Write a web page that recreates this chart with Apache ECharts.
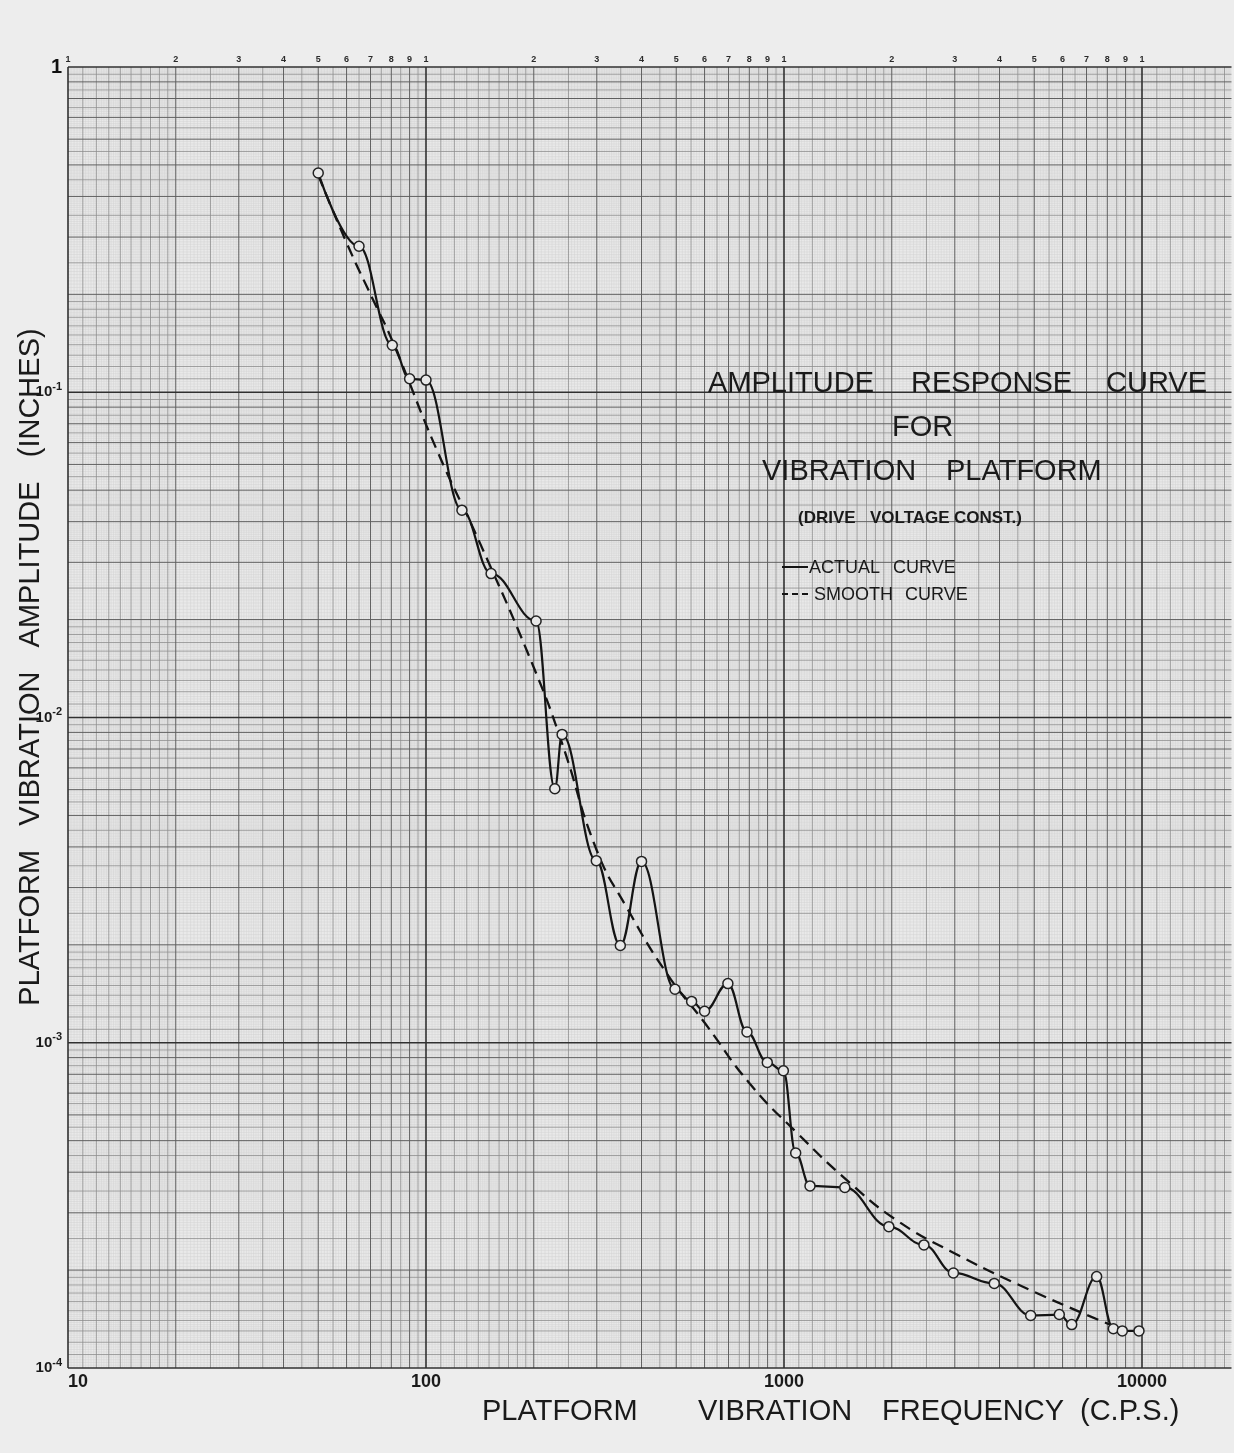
<!DOCTYPE html>
<html>
<head>
<meta charset="utf-8">
<script src="https://cdn.jsdelivr.net/npm/echarts@6/dist/echarts.min.js"></script>
<style>
  html, body { margin: 0; padding: 0; background: #ededed; }
  #chart { width: 1234px; height: 1453px; }
</style>
</head>
<body>
<div id="chart"></div>
<script>
// Measured response of the platform: frequency (c.p.s.) vs amplitude (inches)
const actualFreq = [50, 65, 80.5, 90, 100, 126, 152, 203, 229, 240, 299, 349, 400,
  496, 552, 600, 697, 788, 898, 996, 1078, 1182, 1479, 1963, 2460, 2973, 3867,
  4887, 5875, 6363, 7470, 8317, 8810, 9808];
const actualAmp = [0.472, 0.281, 0.1395, 0.110, 0.109, 0.0434, 0.0277, 0.0198,
  0.00604, 0.00887, 0.00363, 0.00199, 0.00361, 0.00146, 0.00134, 0.00125, 0.00152,
  0.00108, 0.00087, 0.00082, 0.000458, 0.000363, 0.000359, 0.000272, 0.000239,
  0.000196, 0.000182, 0.000145, 0.000146, 0.000136, 0.000191, 0.000132, 0.00013, 0.00013];

// Faired (smooth) curve through the measurements
const smoothFreq = [50, 60.1, 71.2, 80.4, 107.3, 141.6, 201.6, 240, 300, 364, 471,
  601, 803, 1086, 1528, 2041, 2909, 4932, 8400];
const smoothAmp = [0.465, 0.287, 0.192, 0.1445, 0.0663, 0.0343, 0.01395, 0.00832,
  0.0039, 0.0026, 0.00163, 0.00115, 0.000748, 0.000529, 0.000371, 0.000287,
  0.000229, 0.0001726, 0.000134];

// Axis ranges of the log-log sheet
const X_MIN = 10, X_MAX = Math.pow(10, 4.25);
const Y_MIN = 1e-4, Y_MAX = 1;
const xDecades = [1, 2, 3, 4];
const yDecades = [-4, -3, -2, -1, 0];

// Ruling of the sheet within one decade
function steps(a, b, step) {
  const out = [];
  for (let v = a; v < b - 1e-9; v += step) out.push(+v.toFixed(3));
  return out;
}
const unitMant = [2, 3, 4, 5, 6, 7, 8, 9];
const halfMant = [1.1, 1.2, 1.3, 1.4, 1.5, 1.6, 1.7, 1.8, 1.9,
  2.5, 3.5, 4.5, 5.5, 6.5, 7.5, 8.5, 9.5];
const fineMant = [].concat(steps(1, 2, 0.02), steps(2, 5, 0.05), steps(5, 10, 0.1))
  .filter(m => m !== 1 && unitMant.indexOf(m) < 0 && halfMant.indexOf(m) < 0);

const ruleStyles = [
  { color: '#303030', width: 1.6 },
  { color: '#5e5e5e', width: 1.0 },
  { color: '#8c8c8c', width: 0.8 },
  { color: '#d2d2d2', width: 0.5 }
];

function snap(v) { return Number(v.toPrecision(6)); }

// items: [x, y, tier, vertical?1:0]
const rules = [];
[[1], unitMant, halfMant, fineMant].forEach((list, tier) => {
  xDecades.forEach(e => list.forEach(m => {
    const v = snap(m * Math.pow(10, e));
    if (v >= X_MIN && v <= X_MAX) rules.push([v, Y_MIN, tier, 1]);
  }));
  yDecades.forEach(e => list.forEach(m => {
    const v = snap(m * Math.pow(10, e));
    if (v >= Y_MIN && v <= Y_MAX) rules.push([X_MIN, v, tier, 0]);
  }));
});
rules.sort((a, b) => b[2] - a[2]);

const FONT = '"Liberation Sans", Arial, sans-serif';

function renderRule(params, api) {
  const tier = api.value(2);
  const vertical = api.value(3) === 1;
  const st = ruleStyles[tier];
  let p1, p2;
  if (vertical) {
    const v = api.value(0);
    p1 = api.coord([v, Y_MIN]);
    p2 = api.coord([v, Y_MAX]);
  } else {
    const v = api.value(1);
    p1 = api.coord([X_MIN, v]);
    p2 = api.coord([X_MAX, v]);
  }
  const line = {
    type: 'line',
    shape: { x1: p1[0], y1: p1[1], x2: p2[0], y2: p2[1] },
    style: { stroke: st.color, lineWidth: st.width }
  };
  if (vertical && tier <= 1) {
    const v = api.value(0);
    if (v <= 10000) {
      const digit = Math.round(v / Math.pow(10, Math.floor(Math.log10(v) + 1e-9)));
      return {
        type: 'group',
        children: [line, {
          type: 'text',
          style: {
            text: String(digit), x: p2[0], y: p2[1] - 3,
            align: 'center', verticalAlign: 'bottom',
            textAlign: 'center', textVerticalAlign: 'bottom',
            font: 'bold 9px ' + FONT, fill: '#2a2a2a'
          }
        }]
      };
    }
  }
  return line;
}

function txt(text, x, y, size, opts) {
  opts = opts || {};
  return {
    type: 'text',
    x: x, y: y,
    rotation: opts.rotation || 0,
    style: {
      text: text, x: 0, y: 0,
      font: (opts.weight || 'normal') + ' ' + size + 'px ' + FONT,
      fill: opts.color || '#1a1a1a',
      align: opts.align || 'left', textAlign: opts.align || 'left',
      verticalAlign: 'middle', textVerticalAlign: 'middle'
    },
    z: 20
  };
}

const chart = echarts.init(document.getElementById('chart'), null, { renderer: 'canvas' });

chart.setOption({
  backgroundColor: '#ededed',
  animation: false,
  grid: {
    left: 68, top: 67, right: 2.5, bottom: 85,
    show: true, backgroundColor: '#e9e9e9', borderWidth: 0
  },
  xAxis: {
    type: 'log', logBase: 10, min: X_MIN, max: X_MAX,
    axisLine: { show: false }, axisTick: { show: false }, splitLine: { show: false },
    axisLabel: {
      margin: 5, showMaxLabel: false, alignMinLabel: 'left',
      fontFamily: FONT, fontWeight: 'bold', fontSize: 18, color: '#1a1a1a',
      formatter: v => String(Math.round(v))
    }
  },
  yAxis: {
    type: 'log', logBase: 10, min: Y_MIN, max: Y_MAX,
    axisLine: { show: false }, axisTick: { show: false }, splitLine: { show: false },
    axisLabel: {
      margin: 6,
      formatter: v => {
        const e = Math.round(Math.log10(v));
        return e === 0 ? '{one|1}' : '{b|10}{s|' + e + '}';
      },
      rich: {
        one: { fontFamily: FONT, fontWeight: 'bold', fontSize: 20, color: '#111', lineHeight: 22 },
        b: { fontFamily: FONT, fontWeight: 'bold', fontSize: 15, color: '#1a1a1a', lineHeight: 22, verticalAlign: 'middle' },
        s: { fontFamily: FONT, fontWeight: 'bold', fontSize: 11, color: '#1a1a1a', lineHeight: 22, verticalAlign: 'top' }
      }
    }
  },
  series: [
    {
      type: 'custom',
      silent: true,
      clip: false,
      z: 1,
      encode: { x: 0, y: 1 },
      renderItem: renderRule,
      data: rules
    },
    {
      name: 'SMOOTH CURVE',
      type: 'line',
      data: smoothFreq.map((f, i) => [f, smoothAmp[i]]),
      smooth: 0.5,
      symbol: 'none',
      lineStyle: { color: '#141414', width: 2.3, type: [12, 7] },
      z: 4
    },
    {
      name: 'ACTUAL CURVE',
      type: 'line',
      data: actualFreq.map((f, i) => [f, actualAmp[i]]),
      smooth: 0.4,
      smoothMonotone: 'x',
      symbol: 'circle',
      symbolSize: 10,
      showAllSymbol: true,
      lineStyle: { color: '#141414', width: 2.2 },
      itemStyle: { color: '#e8e8e8', borderColor: '#222', borderWidth: 1.5 },
      z: 5
    }
  ],
  graphic: [
    // title block
    txt('AMPLITUDE', 708, 384, 29),
    txt('RESPONSE', 911, 384, 29),
    txt('CURVE', 1106, 384, 29),
    txt('FOR', 892, 428, 29),
    txt('VIBRATION', 762, 472, 29),
    txt('PLATFORM', 946, 472, 29),
    txt('(DRIVE', 798, 518, 17, { weight: 'bold' }),
    txt('VOLTAGE', 870, 518, 17, { weight: 'bold' }),
    txt('CONST.)', 954, 518, 17, { weight: 'bold' }),
    // key
    { type: 'line', shape: { x1: 782, y1: 567, x2: 808, y2: 567 },
      style: { stroke: '#141414', lineWidth: 2 }, z: 20 },
    txt('ACTUAL', 809, 568, 18),
    txt('CURVE', 893, 568, 18),
    { type: 'line', shape: { x1: 782, y1: 594, x2: 812, y2: 594 },
      style: { stroke: '#141414', lineWidth: 2, lineDash: [6, 4] }, z: 20 },
    txt('SMOOTH', 814, 595, 18),
    txt('CURVE', 905, 595, 18),
    // axis titles
    txt('PLATFORM', 482, 1412, 29),
    txt('VIBRATION', 698, 1412, 29),
    txt('FREQUENCY', 882, 1412, 29),
    txt('(C.P.S.)', 1080, 1412, 29),
    txt('PLATFORM   VIBRATION   AMPLITUDE   (INCHES)', 31, 667, 29,
      { rotation: Math.PI / 2, align: 'center' })
  ]
});
</script>
</body>
</html>
